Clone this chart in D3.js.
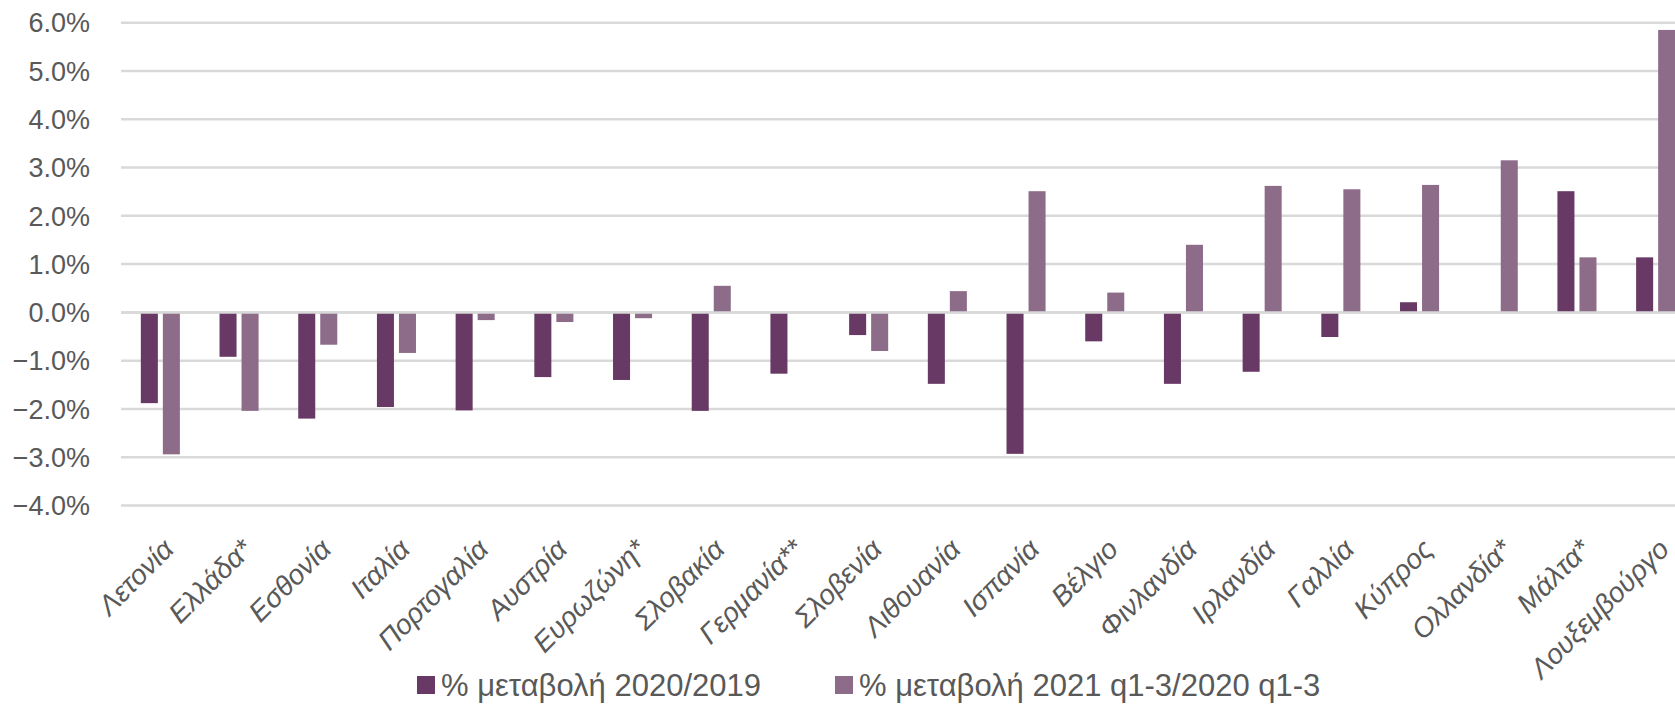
<!DOCTYPE html>
<html>
<head>
<meta charset="utf-8">
<script src="https://cdn.jsdelivr.net/npm/d3@7"></script>
<style>
  body { margin: 0; background: #fff; overflow: hidden; }
  svg { display: block; }
</style>
</head>
<body>
<svg width="1675" height="706"></svg>
<script>
// data
var countries = ["Λετονία", "Ελλάδα*", "Εσθονία", "Ιταλία", "Πορτογαλία", "Αυστρία", "Ευρωζώνη*",
    "Σλοβακία", "Γερμανία**", "Σλοβενία", "Λιθουανία", "Ισπανία", "Βέλγιο", "Φινλανδία",
    "Ιρλανδία", "Γαλλία", "Κύπρος", "Ολλανδία*", "Μάλτα*", "Λουξεμβούργο"];

var change2020 = [-1.88, -0.92, -2.20, -1.96, -2.03, -1.34, -1.40, -2.04, -1.27, -0.47,
    -1.48, -2.93, -0.60, -1.48, -1.23, -0.51, 0.21, null, 2.51, 1.14];

var change2021 = [-2.94, -2.04, -0.67, -0.84, -0.16, -0.20, -0.12, 0.55, null, -0.80,
    0.44, 2.51, 0.41, 1.40, 2.62, 2.55, 2.64, 3.15, 1.14, 5.85];

var seriesNames = ["% μεταβολή 2020/2019", "% μεταβολή 2021 q1-3/2020 q1-3"];
var seriesColors = ["#683964", "#8d6c89"];
var yTicks = [-4, -3, -2, -1, 0, 1, 2, 3, 4, 5, 6];

var svg = d3.select("svg"),
    width = +svg.attr("width"),
    height = +svg.attr("height");

var left = 121, step = 78.7;

var x = d3.scaleBand()
    .domain(countries)
    .range([left, left + step * countries.length]);

var xInner = d3.scaleBand()
    .domain([0, 1])
    .range([0, x.bandwidth()])
    .paddingInner(0.227)
    .paddingOuter(0.9);

var y = d3.scaleLinear()
    .domain([-4, 6])
    .range([505.5, 22.7]);

var font = "'Liberation Sans', Arial, sans-serif";
var textColor = "#595959";

// gridlines (zero line is drawn again over the bars)
var grid = svg.append("g");
grid.selectAll("line")
    .data(yTicks)
    .enter().append("line")
    .attr("x1", left)
    .attr("x2", width + 40)
    .attr("y1", function(d) { return y(d); })
    .attr("y2", function(d) { return y(d); })
    .attr("stroke", "#d9d9d9")
    .attr("stroke-width", 2.5);

// y labels
svg.append("g")
    .selectAll("text")
    .data(yTicks)
    .enter().append("text")
    .attr("x", 90)
    .attr("y", function(d) { return y(d); })
    .attr("dy", "0.36em")
    .attr("text-anchor", "end")
    .attr("font-family", font)
    .attr("font-size", "27px")
    .attr("fill", textColor)
    .text(function(d) { return d3.format(".1f")(d) + "%"; });

// bars
var series = [change2020, change2021];
series.forEach(function(vals, s) {
    var rows = countries.map(function(c, i) { return { c: c, v: vals[i] }; })
        .filter(function(d) { return d.v !== null; });
    svg.append("g")
        .selectAll("rect")
        .data(rows)
        .enter().append("rect")
        .attr("x", function(d) { return x(d.c) + xInner(s); })
        .attr("width", xInner.bandwidth())
        .attr("y", function(d) { return y(Math.max(0, d.v)); })
        .attr("height", function(d) { return Math.abs(y(d.v) - y(0)); })
        .attr("fill", seriesColors[s]);
});

svg.append("line")
    .attr("x1", left)
    .attr("x2", width + 40)
    .attr("y1", y(0))
    .attr("y2", y(0))
    .attr("stroke", "#d9d9d9")
    .attr("stroke-width", 2.5);

// category labels
svg.append("g")
    .selectAll("text")
    .data(countries)
    .enter().append("text")
    .attr("transform", function(d) {
        return "translate(" + (x(d) + x.bandwidth() / 2 + 15) + ",551) rotate(-45)";
    })
    .attr("text-anchor", "end")
    .attr("font-family", font)
    .attr("font-style", "italic")
    .attr("font-size", "28px")
    .attr("fill", textColor)
    .text(function(d) { return d; });

// legend
var legendX = [417, 835];
var legend = svg.append("g")
    .selectAll("g")
    .data(seriesNames)
    .enter().append("g")
    .attr("transform", function(d, i) { return "translate(" + legendX[i] + ",676)"; });

legend.append("rect")
    .attr("width", 18)
    .attr("height", 18)
    .attr("fill", function(d, i) { return seriesColors[i]; });

legend.append("text")
    .attr("x", 24)
    .attr("y", 9)
    .attr("dy", "0.36em")
    .attr("font-family", font)
    .attr("font-size", "31px")
    .attr("fill", textColor)
    .text(function(d) { return d; });
</script>
</body>
</html>
